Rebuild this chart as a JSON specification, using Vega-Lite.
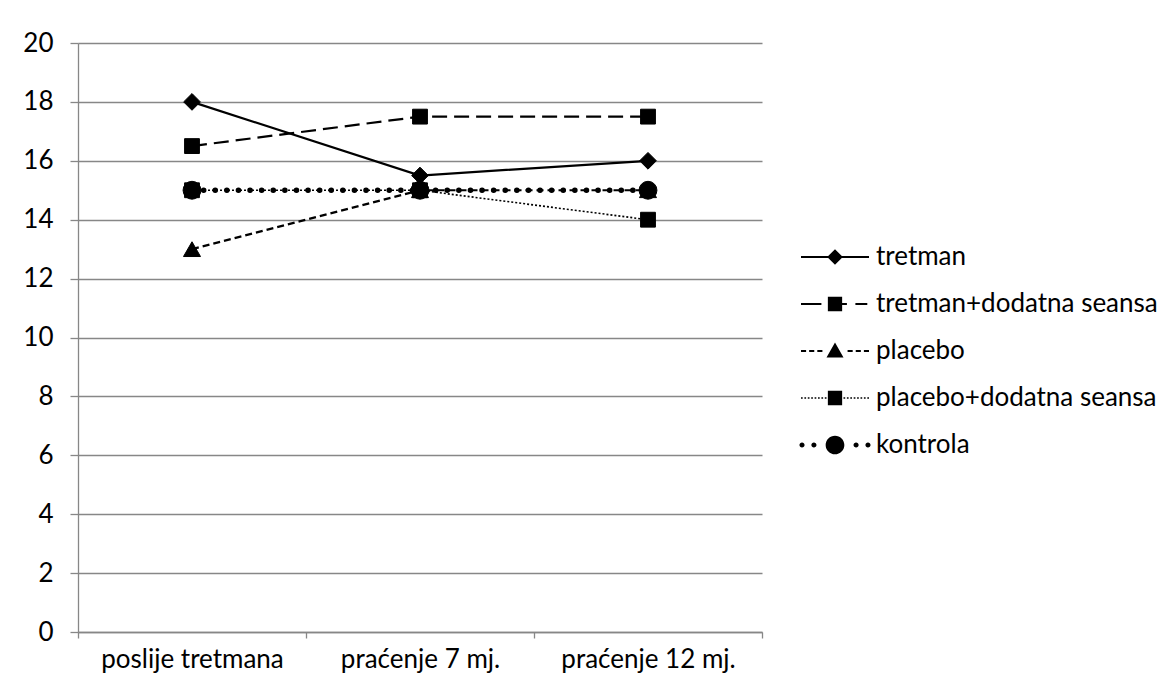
{
  "$schema": "https://vega.github.io/schema/vega-lite/v6.json",
  "autosize": {"type": "none"},
  "padding": {"left": 78, "top": 43, "right": 402, "bottom": 57},
  "width": 684,
  "height": 589,
  "background": "white",
  "config": {
    "view": {"stroke": null},
    "font": "Lato",
    "axis": {
      "domainColor": "#878787",
      "domainWidth": 1.3,
      "tickColor": "#878787",
      "tickWidth": 1.3,
      "gridColor": "#878787",
      "gridWidth": 1.3,
      "labelFont": "Lato",
      "labelFontSize": 26,
      "labelColor": "black",
      "labelLimit": 400
    }
  },
  "data": {
    "values": [
      {"t": "poslije tretmana", "s": "tretman", "v": 18},
      {"t": "praćenje 7 mj.", "s": "tretman", "v": 15.5},
      {"t": "praćenje 12 mj.", "s": "tretman", "v": 16},
      {"t": "poslije tretmana", "s": "tretman+dodatna seansa", "v": 16.5},
      {"t": "praćenje 7 mj.", "s": "tretman+dodatna seansa", "v": 17.5},
      {"t": "praćenje 12 mj.", "s": "tretman+dodatna seansa", "v": 17.5},
      {"t": "poslije tretmana", "s": "placebo", "v": 13},
      {"t": "praćenje 7 mj.", "s": "placebo", "v": 15},
      {"t": "praćenje 12 mj.", "s": "placebo", "v": 15},
      {"t": "poslije tretmana", "s": "placebo+dodatna seansa", "v": 15},
      {"t": "praćenje 7 mj.", "s": "placebo+dodatna seansa", "v": 15},
      {"t": "praćenje 12 mj.", "s": "placebo+dodatna seansa", "v": 14},
      {"t": "poslije tretmana", "s": "kontrola", "v": 15},
      {"t": "praćenje 7 mj.", "s": "kontrola", "v": 15},
      {"t": "praćenje 12 mj.", "s": "kontrola", "v": 15}
    ]
  },
  "encoding": {
    "x": {
      "field": "t",
      "type": "nominal",
      "sort": ["poslije tretmana", "praćenje 7 mj.", "praćenje 12 mj."],
      "scale": {"type": "band", "paddingInner": 0, "paddingOuter": 0},
      "axis": {"title": null, "labelAngle": 0, "tickBand": "extent", "tickSize": 6, "labelPadding": 8, "grid": false}
    },
    "y": {
      "field": "v",
      "type": "quantitative",
      "scale": {"domain": [0, 20], "nice": false},
      "axis": {"title": null, "values": [0, 2, 4, 6, 8, 10, 12, 14, 16, 18, 20], "tickSize": 8, "labelPadding": 17, "grid": true}
    }
  },
  "layer": [
    {
      "transform": [{"filter": "datum.s === 'placebo+dodatna seansa'"}],
      "mark": {"type": "line", "color": "black", "strokeDash": [2, 2], "strokeWidth": 1.6},
      "encoding": {}
    },
    {
      "transform": [{"filter": "datum.s === 'placebo'"}],
      "mark": {"type": "line", "color": "black", "strokeDash": [7, 4], "strokeWidth": 2.2},
      "encoding": {}
    },
    {
      "transform": [{"filter": "datum.s === 'kontrola'"}],
      "mark": {"type": "line", "color": "black", "strokeDash": [0.1, 11.5], "strokeCap": "round", "strokeWidth": 5.5},
      "encoding": {}
    },
    {
      "transform": [{"filter": "datum.s === 'tretman+dodatna seansa'"}],
      "mark": {"type": "line", "color": "black", "strokeDash": [15, 7], "strokeWidth": 2.2},
      "encoding": {}
    },
    {
      "transform": [{"filter": "datum.s === 'tretman'"}],
      "mark": {"type": "line", "color": "black", "strokeWidth": 2.2},
      "encoding": {}
    },
    {
      "transform": [{"filter": "datum.s === 'kontrola'"}],
      "mark": {"type": "point", "shape": "circle", "filled": true, "color": "black", "stroke": "black", "strokeWidth": 1, "opacity": 1, "size": 320},
      "encoding": {}
    },
    {
      "transform": [{"filter": "datum.s === 'placebo'"}],
      "mark": {"type": "point", "shape": "triangle-up", "filled": true, "color": "black", "stroke": "black", "strokeWidth": 1, "opacity": 1, "size": 290},
      "encoding": {}
    },
    {
      "transform": [{"filter": "datum.s === 'tretman+dodatna seansa' || datum.s === 'placebo+dodatna seansa'"}],
      "mark": {"type": "point", "shape": "square", "filled": true, "color": "black", "stroke": "black", "strokeWidth": 1, "opacity": 1, "size": 220},
      "encoding": {}
    },
    {
      "transform": [{"filter": "datum.s === 'tretman'"}],
      "mark": {"type": "point", "shape": "diamond", "filled": true, "color": "black", "stroke": "black", "strokeWidth": 1, "opacity": 1, "size": 280},
      "encoding": {}
    },
    {
      "mark": {"type": "point", "filled": true, "fill": "black", "opacity": 0},
      "encoding": {
        "shape": {
          "field": "s",
          "type": "nominal",
          "scale": {
            "domain": ["tretman", "tretman+dodatna seansa", "placebo", "placebo+dodatna seansa", "kontrola"],
            "range": [
              "M-2,-0.065L2,-0.065L2,0.065L-2,0.065ZM0,-0.46L0.46,0L0,0.46L-0.46,0Z",
              "M-2,-0.065L-0.8,-0.065L-0.8,0.065L-2,0.065ZM-0.42,-0.42L0.42,-0.42L0.42,0.42L-0.42,0.42ZM0.42,-0.065L0.7,-0.065L0.7,0.065L0.42,0.065ZM1.2,-0.065L1.9,-0.065L1.9,0.065L1.2,0.065Z",
              "M-2,-0.065L-1.7,-0.065L-1.7,0.065L-2,0.065ZM-1.52,-0.065L-1.22,-0.065L-1.22,0.065L-1.52,0.065ZM-1.04,-0.065L-0.74,-0.065L-0.74,0.065L-1.04,0.065ZM0,-0.5L0.5,0.38L-0.5,0.38ZM0.74,-0.065L1.04,-0.065L1.04,0.065L0.74,0.065ZM1.22,-0.065L1.52,-0.065L1.52,0.065L1.22,0.065ZM1.7,-0.065L2,-0.065L2,0.065L1.7,0.065Z",
              "M-2,-0.045L-1.9,-0.045L-1.9,0.045L-2,0.045ZM-1.8,-0.045L-1.7,-0.045L-1.7,0.045L-1.8,0.045ZM-1.6,-0.045L-1.5,-0.045L-1.5,0.045L-1.6,0.045ZM-1.4,-0.045L-1.3,-0.045L-1.3,0.045L-1.4,0.045ZM-1.2,-0.045L-1.1,-0.045L-1.1,0.045L-1.2,0.045ZM-1,-0.045L-0.9,-0.045L-0.9,0.045L-1,0.045ZM-0.8,-0.045L-0.7,-0.045L-0.7,0.045L-0.8,0.045ZM-0.6,-0.045L-0.5,-0.045L-0.5,0.045L-0.6,0.045ZM-0.42,-0.42L0.42,-0.42L0.42,0.42L-0.42,0.42ZM0.5,-0.045L0.6,-0.045L0.6,0.045L0.5,0.045ZM0.7,-0.045L0.8,-0.045L0.8,0.045L0.7,0.045ZM0.9,-0.045L1,-0.045L1,0.045L0.9,0.045ZM1.1,-0.045L1.2,-0.045L1.2,0.045L1.1,0.045ZM1.3,-0.045L1.4,-0.045L1.4,0.045L1.3,0.045ZM1.5,-0.045L1.6,-0.045L1.6,0.045L1.5,0.045ZM1.7,-0.045L1.8,-0.045L1.8,0.045L1.7,0.045ZM1.9,-0.045L2,-0.045L2,0.045L1.9,0.045Z",
              "M-2.09,0A0.15,0.15,0,1,1,-1.79,0A0.15,0.15,0,1,1,-2.09,0ZM-1.39,0A0.15,0.15,0,1,1,-1.09,0A0.15,0.15,0,1,1,-1.39,0ZM-0.55,0A0.55,0.55,0,1,1,0.55,0A0.55,0.55,0,1,1,-0.55,0ZM1.09,0A0.15,0.15,0,1,1,1.39,0A0.15,0.15,0,1,1,1.09,0ZM1.79,0A0.15,0.15,0,1,1,2.09,0A0.15,0.15,0,1,1,1.79,0Z"
            ]
          },
          "legend": {
            "title": null, "orient": "none", "legendX": 740, "legendY": 197, "padding": 0,
            "symbolSize": 1156, "symbolFillColor": "black", "symbolStrokeWidth": 0, "symbolOpacity": 1,
            "labelFont": "Lato", "labelFontSize": 26, "labelColor": "black", "labelLimit": 500, "labelOffset": 24, "rowPadding": 17
          }
        }
      }
    }
  ]
}
